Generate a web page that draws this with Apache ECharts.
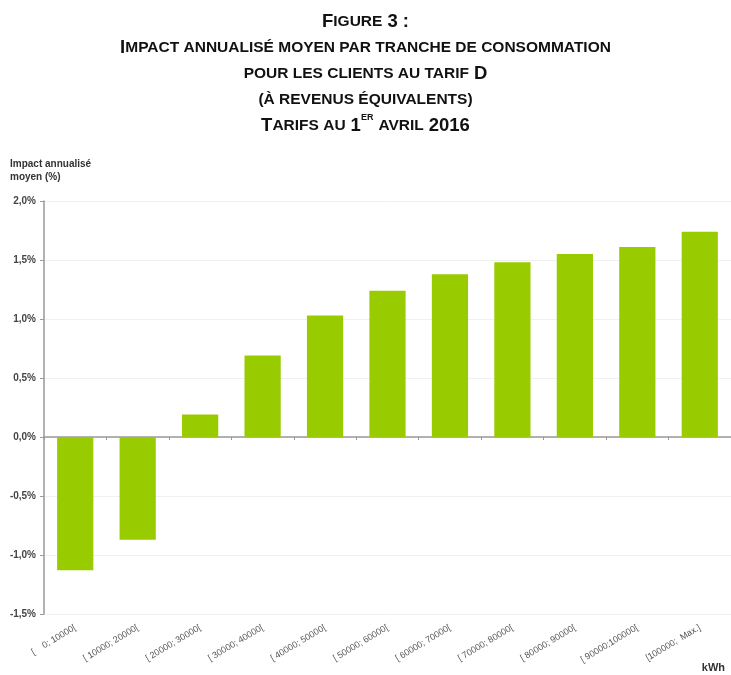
<!DOCTYPE html>
<html>
<head>
<meta charset="utf-8">
<script src="https://cdn.jsdelivr.net/npm/echarts@6/dist/echarts.min.js"></script>
<style>
  html, body { margin: 0; padding: 0; background: #fff; }
  #chart { width: 731px; height: 675px; }
</style>
</head>
<body>
<div id="chart"></div>
<script>
// tranches de consommation (kWh)
var categories = [
  '[    0; 10000[', '[ 10000; 20000[', '[ 20000; 30000[', '[ 30000; 40000[',
  '[ 40000; 50000[', '[ 50000; 60000[', '[ 60000; 70000[', '[ 70000; 80000[',
  '[ 80000; 90000[', '[ 90000;100000[', '[100000;  Max.]'
];
// impact annualisé moyen (%)
var impact = [-1.13, -0.87, 0.19, 0.69, 1.03, 1.24, 1.38, 1.48, 1.55, 1.61, 1.74];
var yTicks = [-1.5, -1.0, -0.5, 0.0, 0.5, 1.0, 1.5, 2.0];

var chart = echarts.init(document.getElementById('chart'));

var titleText = [
  '{b|F}{s|IGURE} {b|3 :}',
  '{b|I}{s|MPACT ANNUALISÉ MOYEN PAR TRANCHE DE CONSOMMATION}',
  '{s|POUR LES CLIENTS AU TARIF} {b|D}',
  '{s|(À REVENUS ÉQUIVALENTS)}',
  '{b|T}{s|ARIFS AU} {b|1}{sup|ER} {s|AVRIL} {b|2016}'
].join('\n');

var option = {
  backgroundColor: '#fff',
  textStyle: { fontFamily: 'Liberation Sans, Arial, sans-serif' },
  title: {
    text: titleText,
    left: 'center',
    top: 4,
    textStyle: {
      fontWeight: 'bold',
      color: '#111',
      lineHeight: 26,
      rich: {
        b: { fontSize: 18.5, fontWeight: 'bold', color: '#111', lineHeight: 26, fontFamily: 'Liberation Sans' },
        s: { fontSize: 15.5, fontWeight: 'bold', color: '#111', lineHeight: 26, fontFamily: 'Liberation Sans' },
        sup: { fontSize: 9, fontWeight: 'bold', color: '#111', lineHeight: 26, verticalAlign: 'top', padding: [0, 0, 8, 0], fontFamily: 'Liberation Sans' }
      }
    }
  },
  graphic: [
    {
      type: 'text', left: 10, top: 158,
      style: { text: 'Impact annualisé\nmoyen (%)', font: 'bold 10px Liberation Sans', fill: '#333', lineHeight: 13 }
    },
    {
      type: 'text', right: 6, top: 662,
      style: { text: 'kWh', font: 'bold 11px Liberation Sans', fill: '#333' }
    }
  ],
  grid: { left: 44, right: 0, top: 201, bottom: 61, containLabel: false },
  xAxis: [
    {
      type: 'category',
      data: categories,
      axisLine: { onZero: true, lineStyle: { color: '#999', width: 1.5 } },
      axisTick: { show: true, interval: 0, length: 3, lineStyle: { color: '#999' } },
      axisLabel: { show: false },
      splitLine: { show: false }
    },
    {
      type: 'category',
      data: categories,
      position: 'bottom',
      axisLine: { show: false, onZero: false },
      axisTick: { show: false },
      axisLabel: {
        interval: 0,
        rotate: 31,
        margin: 13,
        fontSize: 9,
        color: '#555',
        align: 'right',
        verticalAlign: 'middle'
      }
    }
  ],
  yAxis: {
    type: 'value',
    min: yTicks[0],
    max: yTicks[yTicks.length - 1],
    interval: 0.5,
    axisLine: { show: true, lineStyle: { color: '#999', width: 1.5 } },
    axisTick: { show: true, length: 4, lineStyle: { color: '#999' } },
    splitLine: { lineStyle: { color: '#f0f0f0' } },
    axisLabel: {
      fontSize: 10,
      fontWeight: 'bold',
      color: '#444',
      margin: 8,
      formatter: function (v) { return v.toFixed(1).replace('.', ',') + '%'; }
    }
  },
  series: [{
    type: 'bar',
    data: impact,
    barWidth: '58%',
    itemStyle: { color: '#99cc00' }
  }]
};

chart.setOption(option);
</script>
</body>
</html>
